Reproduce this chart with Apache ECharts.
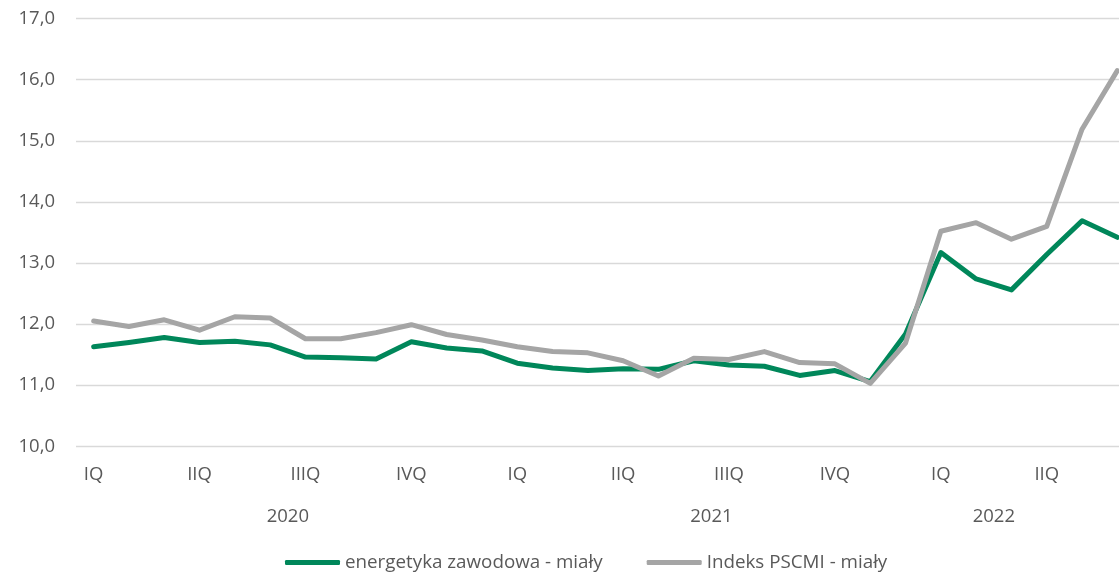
<!DOCTYPE html>
<html>
<head>
<meta charset="utf-8">
<script src="https://cdn.jsdelivr.net/npm/echarts@6/dist/echarts.min.js"></script>
<style>
  html, body { margin: 0; padding: 0; background: #fff; }
  #main { width: 1119px; height: 573px; }
</style>
</head>
<body>
<div id="main"></div>
<script>
// miesiace 2020-01 .. 2022-06
const months = [
  '2020-01','2020-02','2020-03','2020-04','2020-05','2020-06',
  '2020-07','2020-08','2020-09','2020-10','2020-11','2020-12',
  '2021-01','2021-02','2021-03','2021-04','2021-05','2021-06',
  '2021-07','2021-08','2021-09','2021-10','2021-11','2021-12',
  '2022-01','2022-02','2022-03','2022-04','2022-05','2022-06'
];
const quarterNames = ['IQ', 'IIQ', 'IIIQ', 'IVQ'];
const years = ['2020', '2021', '2022'];
// category index the year label sits over
const yearAnchors = [5.5, 17.5, 25.5];

const energetyka = [
  11.63, 11.70, 11.78, 11.70, 11.72, 11.66, 11.46, 11.45, 11.43, 11.71,
  11.61, 11.56, 11.36, 11.28, 11.24, 11.27, 11.26, 11.40, 11.33, 11.31,
  11.16, 11.24, 11.06, 11.84, 13.17, 12.74, 12.56, 13.14, 13.69, 13.42
];
const pscmi = [
  12.05, 11.96, 12.07, 11.90, 12.12, 12.10, 11.76, 11.76, 11.86, 11.99,
  11.83, 11.74, 11.63, 11.55, 11.53, 11.40, 11.15, 11.44, 11.42, 11.55,
  11.37, 11.35, 11.03, 11.69, 13.52, 13.66, 13.39, 13.60, 15.19, 16.15
];

const textColor = '#595959';
const fontFamily = '"Open Sans", sans-serif';

var chartDom = document.getElementById('main');
var myChart = echarts.init(chartDom);

const option = {
  animation: false,
  grid: {
    left: 76,
    top: 18.6,
    width: 1059,
    height: 427.7,
    outerBoundsMode: 'none'
  },
  legend: {
    left: 285,
    top: 553,
    padding: 0,
    itemWidth: 55,
    itemHeight: 5,
    itemGap: 44,
    icon: 'roundRect',
    textStyle: { color: textColor, fontSize: 18.8, fontFamily: fontFamily },
    data: ['energetyka zawodowa - miały', 'Indeks PSCMI - miały']
  },
  xAxis: [
    {
      type: 'category',
      data: months,
      boundaryGap: true,
      axisLine: { show: false },
      axisTick: { show: false },
      axisLabel: {
        interval: 2,
        margin: 19,
        color: textColor,
        fontSize: 18.5,
        fontFamily: fontFamily,
        formatter: function (m) {
          const mm = parseInt(m.slice(5), 10);
          return quarterNames[Math.floor((mm - 1) / 3)];
        }
      }
    },
    {
      type: 'value',
      position: 'bottom',
      min: -0.5,
      max: months.length - 0.5,
      axisLine: { show: false },
      axisTick: { show: false },
      splitLine: { show: false },
      axisLabel: {
        customValues: yearAnchors,
        margin: 61,
        color: textColor,
        fontSize: 18.5,
        fontFamily: fontFamily,
        formatter: function (v) {
          const i = yearAnchors.findIndex(a => Math.abs(a - v) < 1e-6);
          return i >= 0 ? years[i] : '';
        }
      }
    }
  ],
  yAxis: {
    type: 'value',
    min: 10,
    max: 17,
    interval: 1,
    axisLine: { show: false },
    axisTick: { show: false },
    splitLine: { lineStyle: { color: '#D9D9D9', width: 1.3 } },
    axisLabel: {
      margin: 21,
      color: textColor,
      fontSize: 18.5,
      fontFamily: fontFamily,
      formatter: v => v.toFixed(1).replace('.', ',')
    }
  },
  series: [
    {
      name: 'energetyka zawodowa - miały',
      type: 'line',
      data: energetyka,
      showSymbol: false,
      itemStyle: { color: '#00875A' },
      lineStyle: { color: '#00875A', width: 5, cap: 'round', join: 'round' }
    },
    {
      name: 'Indeks PSCMI - miały',
      type: 'line',
      data: pscmi,
      showSymbol: false,
      itemStyle: { color: '#A5A5A5' },
      lineStyle: { color: '#A5A5A5', width: 5, cap: 'round', join: 'round' }
    }
  ]
};

myChart.setOption(option);
</script>
</body>
</html>
